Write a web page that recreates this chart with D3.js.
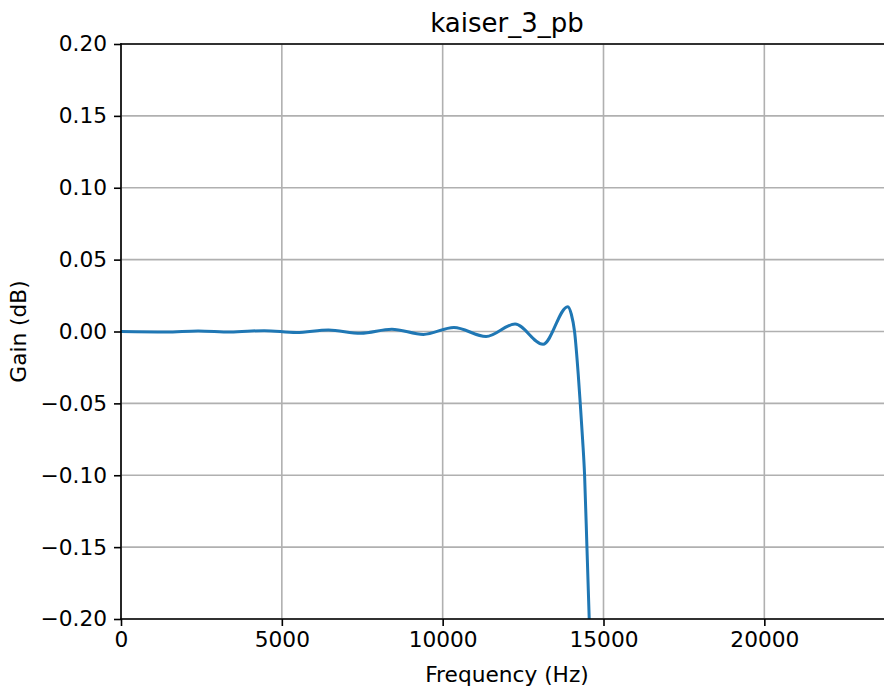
<!DOCTYPE html>
<html>
<head>
<meta charset="utf-8">
<script src="https://cdn.jsdelivr.net/npm/d3@7"></script>
<style>
  body { margin: 0; background: #fff; }
  svg { font-family: "DejaVu Sans", sans-serif; }
</style>
</head>
<body>
<svg id="chart"></svg>
<script>
// passband response
const freq = [0, 1400, 2400, 3400, 4450, 5450, 6450, 7450, 8420, 9400, 10350, 11350, 12250, 13120,
  13890, 14000, 14100, 14215, 14277, 14350, 14412, 14485, 14556, 14680];
const gain = [0, -0.0003, 0.0004, -0.0004, 0.0006, -0.0007, 0.0010, -0.0012, 0.0016, -0.0020, 0.0028, -0.0035, 0.0052, -0.0089,
  0.0173, 0.0120, 0.0000, -0.0300, -0.0500, -0.0750, -0.1000, -0.1500, -0.2000, -0.3000];
const xTicks = [0, 5000, 10000, 15000, 20000];
const yTicks = [-0.20, -0.15, -0.10, -0.05, 0.00, 0.05, 0.10, 0.15, 0.20];

const width = 884, height = 688;
const margin = { top: 44, right: -9, bottom: 69, left: 121 };

const svg = d3.select('#chart')
    .attr('width', width)
    .attr('height', height);

const x = d3.scaleLinear()
    .domain([0, 24000])
    .range([margin.left, width - margin.right]);

const y = d3.scaleLinear()
    .domain([-0.2, 0.2])
    .range([height - margin.bottom, margin.top]);

svg.append('clipPath').attr('id', 'clip')
    .append('rect')
    .attr('x', x(0)).attr('y', y(0.2))
    .attr('width', x(24000) - x(0)).attr('height', y(-0.2) - y(0.2));

// grid
svg.append('g')
    .selectAll('line')
    .data(xTicks)
    .enter()
    .append('line')
    .attr('x1', d => x(d)).attr('x2', d => x(d))
    .attr('y1', y(-0.2)).attr('y2', y(0.2))
    .attr('stroke', '#b0b0b0').attr('stroke-width', 1.6);

svg.append('g')
    .selectAll('line')
    .data(yTicks)
    .enter()
    .append('line')
    .attr('x1', x(0)).attr('x2', x(24000))
    .attr('y1', d => y(d)).attr('y2', d => y(d))
    .attr('stroke', '#b0b0b0').attr('stroke-width', 1.6);

// line
const line = d3.line()
    .x((d, i) => x(freq[i]))
    .y(d => y(d))
    .curve(d3.curveMonotoneX);

svg.append('path')
    .datum(gain)
    .attr('clip-path', 'url(#clip)')
    .attr('fill', 'none')
    .attr('stroke', '#1f77b4')
    .attr('stroke-width', 3)
    .attr('stroke-linejoin', 'round')
    .attr('d', line);

// axes
const xAxis = svg.append('g')
    .attr('transform', 'translate(0,' + y(-0.2) + ')')
    .call(d3.axisBottom(x).tickValues(xTicks).tickFormat(d3.format('d')).tickSizeOuter(0).tickSize(7).tickPadding(6));

const yAxis = svg.append('g')
    .attr('transform', 'translate(' + x(0) + ',0)')
    .call(d3.axisLeft(y).tickValues(yTicks).tickFormat(d => d3.format('.2f')(d).replace('-', '\u2212')).tickSizeOuter(0).tickSize(7).tickPadding(7));

[xAxis, yAxis].forEach(g => {
  g.select('.domain').remove();
  g.selectAll('.tick line').attr('stroke', '#000').attr('stroke-width', 1.6);
  g.selectAll('.tick text').attr('font-size', 21.7).attr('fill', '#000')
      .attr('font-family', '"DejaVu Sans", sans-serif');
});

// spines
const spine = [[x(0), y(-0.2), x(24000), y(-0.2)], [x(0), y(0.2), x(24000), y(0.2)],
  [x(0), y(-0.2), x(0), y(0.2)], [x(24000), y(-0.2), x(24000), y(0.2)]];
svg.append('g')
    .selectAll('line')
    .data(spine)
    .enter()
    .append('line')
    .attr('x1', d => d[0]).attr('y1', d => d[1])
    .attr('x2', d => d[2]).attr('y2', d => d[3])
    .attr('stroke', '#000').attr('stroke-width', 1.6)
    .attr('stroke-linecap', 'square');

// labels
svg.append('text')
    .attr('x', (x(0) + x(24000)) / 2).attr('y', 32)
    .attr('text-anchor', 'middle')
    .attr('font-size', 26)
    .text('kaiser_3_pb');

svg.append('text')
    .attr('x', (x(0) + x(24000)) / 2).attr('y', 682)
    .attr('text-anchor', 'middle')
    .attr('font-size', 21.7)
    .text('Frequency (Hz)');

svg.append('text')
    .attr('transform', 'translate(26,' + (y(0.2) + y(-0.2)) / 2 + ') rotate(-90)')
    .attr('text-anchor', 'middle')
    .attr('font-size', 21.7)
    .text('Gain (dB)');
</script>
</body>
</html>
